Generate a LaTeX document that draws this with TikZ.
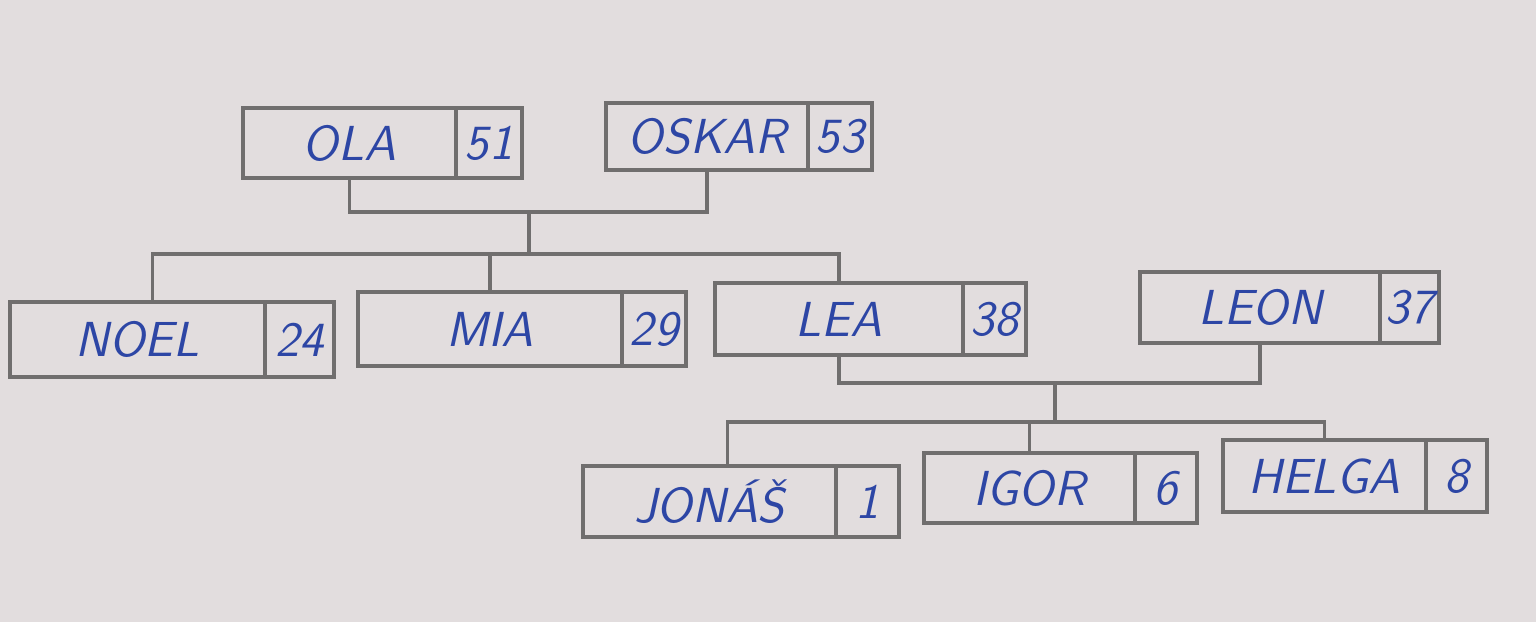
\documentclass[tikz,border=0pt]{standalone}
\usepackage{fontspec}
\usetikzlibrary{positioning}
\definecolor{paper}{RGB}{226,221,222}
\definecolor{frame}{RGB}{112,110,110}
\definecolor{ink}{RGB}{45,70,165}
\tikzset{
  namebox/.style={draw=frame, line width=0.9pt, outer sep=0pt, inner sep=0pt,
    text=ink, font=\fontsize{14}{17}\selectfont\sffamily\itshape},
  link/.style={draw=frame, line width=0.9pt}
}
\begin{document}
\begin{tikzpicture}
    \fill[paper] (0, 0) rectangle (15.36, -6.22);
    \useasboundingbox (0, 0) rectangle (15.36, -6.22);
    % grandparents
    \node[namebox, minimum width=2.13cm, minimum height=0.70cm] (ola) at (3.495, -1.43) {OLA};
    \node[namebox, minimum width=0.66cm, minimum height=0.70cm, right=0pt of ola] (olaage) {51};
    \node[namebox, minimum width=2.02cm, minimum height=0.67cm] (oskar) at (7.07, -1.365) {OSKAR};
    \node[namebox, minimum width=0.64cm, minimum height=0.67cm, right=0pt of oskar] (oskarage) {53};
    % children
    \node[namebox, minimum width=2.55cm, minimum height=0.75cm] (noel) at (1.375, -3.395) {NOEL};
    \node[namebox, minimum width=0.69cm, minimum height=0.75cm, right=0pt of noel] (noelage) {24};
    \node[namebox, minimum width=2.64cm, minimum height=0.74cm] (mia) at (4.90, -3.29) {MIA};
    \node[namebox, minimum width=0.64cm, minimum height=0.74cm, right=0pt of mia] (miaage) {29};
    \node[namebox, minimum width=2.48cm, minimum height=0.72cm] (lea) at (8.39, -3.19) {LEA};
    \node[namebox, minimum width=0.63cm, minimum height=0.72cm, right=0pt of lea] (leaage) {38};
    \node[namebox, minimum width=2.40cm, minimum height=0.71cm] (leon) at (12.60, -3.075) {LEON};
    \node[namebox, minimum width=0.59cm, minimum height=0.71cm, right=0pt of leon] (leonage) {37};
    % grandchildren
    \node[namebox, minimum width=2.53cm, minimum height=0.71cm] (jonas) at (7.095, -5.015) {JONÁŠ};
    \node[namebox, minimum width=0.63cm, minimum height=0.71cm, right=0pt of jonas] (jonasage) {1};
    \node[namebox, minimum width=2.11cm, minimum height=0.70cm] (igor) at (10.295, -4.88) {IGOR};
    \node[namebox, minimum width=0.62cm, minimum height=0.70cm, right=0pt of igor] (igorage) {6};
    \node[namebox, minimum width=2.03cm, minimum height=0.72cm] (helga) at (13.245, -4.76) {HELGA};
    \node[namebox, minimum width=0.61cm, minimum height=0.72cm, right=0pt of helga] (helgaage) {8};
    % first family
    \coordinate (couple1) at (5.29, -2.12);
    \coordinate (bar1) at (5.29, -2.54);
    \draw[link] (ola.south) |- (couple1) -| (oskar.south);
    \draw[link] (couple1) -- (bar1);
    \draw[link] ([xshift=0.15cm]noel.north) |- (bar1) -| (lea.north);
    \draw[link] (mia.north) -- (mia.north |- bar1);
    % second family
    \coordinate (couple2) at (10.55, -3.83);
    \coordinate (bar2) at (10.55, -4.22);
    \draw[link] (lea.south) |- (couple2) -| (leon.south);
    \draw[link] (couple2) -- (bar2);
    \draw[link] ([xshift=0.18cm]jonas.north) |- (bar2) -| (helga.north);
    \draw[link] (igor.north) -- (igor.north |- bar2);
\end{tikzpicture}
\end{document}
